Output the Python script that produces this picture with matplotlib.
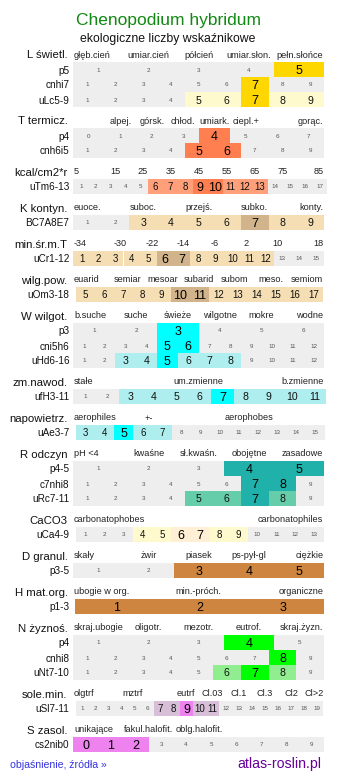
import numpy as np
import matplotlib.pyplot as plt

plt.rcParams['font.family'] = ['Liberation Sans', 'DejaVu Sans']

TITLE = "Chenopodium hybridum"
SUBTITLE = "ekologiczne liczby wskaźnikowe"
LINK_TEXT = "objaśnienie, źródła »"
SITE_TEXT = "atlas-roslin.pl"

# section titles and the scale words written above each block
section_names = ["L świetl.", "T termicz.", "kcal/cm2*r", "K kontyn.", "min.śr.m.T",
                 "wilg.pow.", "W wilgot.", "zm.nawod.", "napowietrz.", "R odczyn",
                 "CaCO3", "D granul.", "H mat.org.", "N żyznoś.", "sole.min.", "S zasol."]
section_heads = [
    ["głęb.cień", "umiar.cień", "półcień", "umiar.słon.", "pełn.słońce"],
    ["", "alpej.", "górsk.", "chłod.", "umiark.", "ciepl.+", "", "gorąc."],
    ["5", "15", "25", "35", "45", "55", "65", "75", "85"],
    ["euoce.", "", "suboc.", "", "przejś.", "", "subko.", "", "konty."],
    ["-34", "-30", "-22", "-14", "-6", "2", "10", "18"],
    ["euarid", "semiar", "mesoar", "subarid", "subom", "meso.", "semiom"],
    ["b.suche", "suche", "świeże", "wilgotne", "mokre", "wodne"],
    ["stałe", "", "", "", "um.zmienne", "", "", "", "b.zmienne"],
    ["aerophiles", "+-", "", "aerophobes", ""],
    ["pH <4", "kwaśne", "sł.kwaśn.", "obojętne", "zasadowe"],
    ["carbonatophobes", "", "", "", "carbonatophiles"],
    ["skały", "żwir", "piasek", "ps-pył-gl", "ciężkie"],
    ["ubogie w org.", "", "min.-próch.", "", "organiczne"],
    ["skraj.ubogie", "oligotr.", "mezotr.", "eutrof.", "skraj.żyzn."],
    ["olgtrf", "", "", "", "mztrf", "", "", "", "eutrf", "", "Cl.03", "", "Cl.1", "",
     "Cl.3", "", "Cl2", "", "Cl>2"],
    ["unikające", "fakul.halofit.", "oblg.halofit.", "", ""],
]

# one entry per row of cells
row_names = ["p5", "cnhi7", "uLc5-9", "p4", "cnh6i5", "uTm6-13", "BC7A8E7", "uCr1-12",
             "uOm3-18", "p3", "cni5h6", "uHd6-16", "ufH3-11", "uAe3-7", "p4-5", "c7nhi8",
             "uRc7-11", "uCa4-9", "p3-5", "p1-3", "p4", "cnhi8", "uNt7-10", "uSl7-11", "cs2nib0"]
row_section = [0, 0, 0, 1, 1, 2, 3, 4, 5, 6, 6, 6, 7, 8, 9, 9, 9, 10, 11, 12, 13, 13, 13, 14, 15]
row_first = [1, 1, 1, 0, 1, 1, 1, 1, 5, 1, 1, 1, 1, 3, 1, 1, 1, 1, 1, 1, 1, 1, 1, 1, 0]
row_last = [5, 9, 9, 7, 9, 17, 9, 15, 17, 6, 12, 12, 11, 15, 5, 9, 9, 13, 5, 3, 5, 9, 9, 19, 9]
row_dark = [[5], [7], [7], [4], [5, 6], [9, 10], [7], [6, 7], [10, 11], [3], [5, 6], [5], [7],
            [5], [4, 5], [7, 8], [7], [6, 7], [3, 4, 5], [1, 2, 3], [4], [8], [7], [9], [0, 1, 2]]
row_light = [[], [], [5, 6, 8, 9], [], [], [6, 7, 8, 11, 12, 13], [3, 4, 5, 6, 8, 9],
             [1, 2, 3, 4, 5, 8, 9, 10, 11, 12], [5, 6, 7, 8, 9, 12, 13, 14, 15, 16, 17],
             [], [], [3, 4, 6, 7, 8], [3, 4, 5, 6, 8, 9, 10, 11], [3, 4, 6, 7], [], [], [5, 6, 8],
             [4, 5, 8, 9], [], [], [], [], [6, 8], [7, 8, 10, 11], []]

# styles
dark_colors = ["#ffd700", "#ff7f50", "#ff7f50", "#d2b48c", "#d2b48c", "#d2b48c", "#00ffff",
               "#00ffff", "#00ffff", "#20b2aa", "#ffefd5", "#cd853f", "#cd853f", "#00ff00",
               "#ee82ee", "#ee82ee"]
light_colors = ["#fffacd", "#ffa07a", "#ffa07a", "#f5deb3", "#f5deb3", "#f5deb3", "#afeeee",
                "#afeeee", "#afeeee", "#66cdaa", "#fffacd", "#cd853f", "#cd853f", "#90ee90",
                "#d8bfd8", "#ee82ee"]
GRAY = "#eeeeee"

# layout (pixels)
X0, X1 = 73.3, 324.3
span = {"uTm6-13": (73.3, 327.3), "uOm3-18": (76, 323), "ufH3-11": (73.3, 326),
        "uAe3-7": (76, 325), "uCa4-9": (76, 324), "p1-3": (75, 324),
        "uSl7-11": (76, 323), "cs2nib0": (73.3, 324)}
ROW_H = 15
GAP = 21
TOP = 62

fig = plt.figure(figsize=(3.37, 7.81), dpi=100)
ax = fig.add_axes([0, 0, 1, 1])
ax.set_xlim(0, 337)
ax.set_ylim(781, 0)
ax.axis("off")

ax.text(168.3, 25, TITLE, ha="center", va="baseline", fontsize=12.5, color="#118811")
ax.text(168, 41.7, SUBTITLE, ha="center", va="baseline", fontsize=8.8, color="#111111")

y = TOP
for s, name in enumerate(section_names):
    ax.text(67.7, y - 3.5, name, ha="right", va="baseline", fontsize=8.2, color="#111111")
    heads = section_heads[s]
    n = len(heads)
    w = (X1 - X0) / n
    for i, lab in enumerate(heads):
        if not lab:
            continue
        if i == 0:
            x, ha = X0 + 0.7, "left"
        elif i == n - 1:
            x, ha = X1 - 1, "right"
        else:
            x, ha = X0 + w * (i + 0.5), "center"
        ax.text(x, y - 4.5, lab, ha=ha, va="baseline", fontsize=6.6, color="#222222")

    for r in [k for k in range(len(row_names)) if row_section[k] == s]:
        a, b = span.get(row_names[r], (X0, X1))
        vals = np.arange(row_first[r], row_last[r] + 1)
        cw = (b - a) / len(vals)
        xs = a + cw * (np.arange(len(vals)) + 0.5)
        colors = []
        for v in vals:
            if v in row_dark[r]:
                colors.append(dark_colors[s])
            elif v in row_light[r]:
                colors.append(light_colors[s])
            else:
                colors.append(GRAY)
        ax.bar(xs, ROW_H, width=cw, bottom=y, color=colors, linewidth=0, antialiased=False)
        ax.text(69.5, y + ROW_H / 2, row_names[r], ha="right", va="center_baseline",
                fontsize=7.2, color="#111111")
        light_fs = 7.6 if cw >= 20 else 7.0
        for v, xc in zip(vals, xs):
            if v in row_dark[r]:
                ax.text(xc, y + ROW_H / 2, str(v), ha="center", va="center_baseline",
                        fontsize=9, color="black")
            elif v in row_light[r]:
                ax.text(xc, y + ROW_H / 2, str(v), ha="center", va="center_baseline",
                        fontsize=light_fs, color="#111111")
            else:
                ax.text(xc, y + ROW_H / 2, str(v), ha="center", va="center_baseline",
                        fontsize=4.5, color="#555555")
        y += ROW_H
    y += GAP

ax.text(10, 768, LINK_TEXT, ha="left", va="baseline", fontsize=7.6, color="#3333dd")
ax.text(321.7, 767.7, SITE_TEXT, ha="right", va="baseline", fontsize=10.2, color="#660099")

fig.savefig("out.png", dpi=100)
